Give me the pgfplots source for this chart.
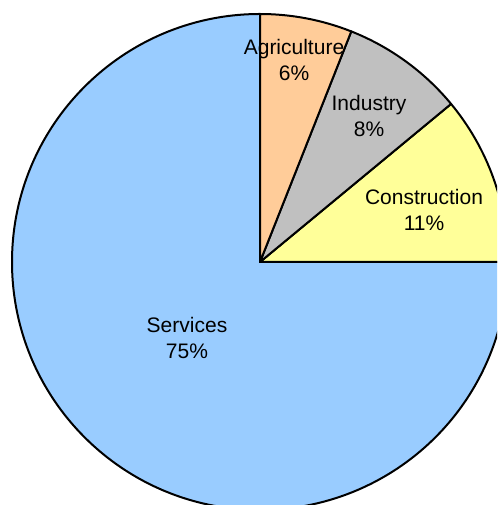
\documentclass[border=0pt]{standalone}
\usepackage{pgfplots}
\pgfplotsset{compat=1.18}
\usepackage{fontspec}
\setmainfont{Liberation Sans}

\definecolor{svc}{RGB}{153,204,255}
\definecolor{con}{RGB}{255,255,153}
\definecolor{ind}{RGB}{192,192,192}
\definecolor{agr}{RGB}{255,204,153}

\begin{document}
\begin{tikzpicture}
% shares in percent, drawn counter-clockwise from 12 o'clock
\def\vS{75}\def\vC{11}\def\vI{8}\def\vA{6}
\def\R{248}
\pgfmathsetmacro\eS{90+3.6*\vS}
\pgfmathsetmacro\eC{\eS+3.6*\vC}
\pgfmathsetmacro\eI{\eC+3.6*\vI}
\pgfmathsetmacro\eA{\eI+3.6*\vA}
\begin{axis}[
    hide axis,
    x=1pt, y=1pt,
    xmin=-260, xmax=237,
    ymin=-243, ymax=262,
    clip=true,
]
\tikzset{slice/.style={draw=black, line width=2pt, line join=round}}
\filldraw[slice, fill=svc] (axis cs:0,0) -- (axis cs:0,\R)
    arc[start angle=90, end angle=\eS, radius=\R pt] -- cycle;
\filldraw[slice, fill=con] (axis cs:0,0) -- (axis cs:{\R*cos(\eS)},{\R*sin(\eS)})
    arc[start angle=\eS, end angle=\eC, radius=\R pt] -- cycle;
\filldraw[slice, fill=ind] (axis cs:0,0) -- (axis cs:{\R*cos(\eC)},{\R*sin(\eC)})
    arc[start angle=\eC, end angle=\eI, radius=\R pt] -- cycle;
\filldraw[slice, fill=agr] (axis cs:0,0) -- (axis cs:{\R*cos(\eI)},{\R*sin(\eI)})
    arc[start angle=\eI, end angle=\eA, radius=\R pt] -- cycle;

\tikzset{lbl/.style={align=center, font=\fontsize{21}{26.5}\selectfont, inner sep=0pt}}
\node[lbl] at (axis cs:34,202) {Agriculture\\6\%};
\node[lbl] at (axis cs:109,146) {Industry\\8\%};
\node[lbl] at (axis cs:164,52) {Construction\\11\%};
\node[lbl] at (axis cs:-73,-76) {Services\\75\%};
\end{axis}
\pgfresetboundingbox
\useasboundingbox (current axis.south west) rectangle (current axis.north east);
\end{tikzpicture}
\end{document}
